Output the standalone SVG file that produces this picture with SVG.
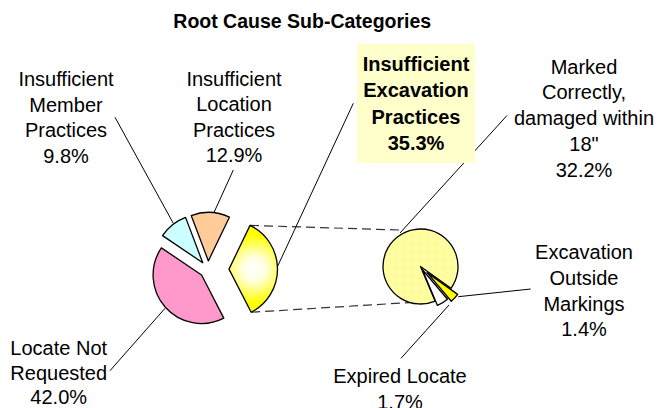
<svg xmlns="http://www.w3.org/2000/svg" width="659" height="408" viewBox="0 0 659 408">
<style>
text{font-family:"Liberation Sans",Arial,sans-serif;fill:#000}
.lbl{font-size:20px;text-anchor:middle}
.bold{font-size:20px;font-weight:bold;text-anchor:middle}
.title{font-size:19.5px;font-weight:bold}
.slice{stroke:#000;stroke-width:1.3;stroke-linejoin:round}
.lead{stroke:#000;stroke-width:1;fill:none}
.dash{stroke:#333;stroke-width:1.2;fill:none;stroke-dasharray:9 5}
</style>
<defs>
<radialGradient id="yg" gradientUnits="userSpaceOnUse" cx="254" cy="269" r="34">
<stop offset="0" stop-color="#FFFFFF"/>
<stop offset="0.35" stop-color="#FFFFE0"/>
<stop offset="1" stop-color="#FFFF00"/>
</radialGradient>
<pattern id="dots" width="2" height="2" patternUnits="userSpaceOnUse">
<rect width="2" height="2" fill="#FFFFD0"/>
<rect width="1" height="1" fill="#FFFF70"/>
<rect x="1" y="1" width="1" height="1" fill="#FFFF70"/>
</pattern>
</defs>
<rect width="659" height="408" fill="#fff"/>
<text class="title" x="173.3" y="28.3">Root Cause Sub-Categories</text>

<g id="connectors">
<line class="dash" x1="250.03" y1="225.4" x2="399" y2="230"/>
<line class="dash" x1="251.17" y1="312.24" x2="435" y2="301"/>
<line class="lead" x1="115" y1="117.3" x2="173.3" y2="223.3"/>
<line class="lead" x1="233.3" y1="170" x2="213.3" y2="214"/>
<line class="lead" x1="353.3" y1="103.3" x2="277.5" y2="266.5"/>
<line class="lead" x1="507" y1="115.5" x2="400" y2="233"/>
<line class="lead" x1="530.7" y1="289" x2="458.3" y2="296.7"/>
<line class="lead" x1="401" y1="358.3" x2="449" y2="305"/>
<line class="lead" x1="110" y1="370.7" x2="165" y2="308.3"/>
</g>

<g id="box-excavation">
<rect x="357" y="44" width="118" height="119" fill="#FFFFCC"/>
<text class="bold" x="416" y="70.5">Insufficient</text>
<text class="bold" x="416" y="97">Excavation</text>
<text class="bold" x="416" y="123.5">Practices</text>
<text class="bold" x="416" y="150">35.3%</text>
</g>

<g id="slice-locate-not-requested">
<path class="slice" fill="#FF99CC" d="M201.6,275 L223.77,318.14 A48.5,48.5 0 0 1 161.39,247.88 Z"/>
</g>
<g id="slice-member">
<path class="slice" fill="#CCFFFF" d="M202.72,262.74 L162.51,235.62 A48.5,48.5 0 0 1 185.58,217.37 Z"/>
</g>
<g id="slice-location">
<path class="slice" fill="#FFCC99" d="M208.37,260.91 L191.23,215.54 A48.5,48.5 0 0 1 229.4,217.21 Z"/>
</g>
<g id="slice-excavation">
<path class="slice" fill="url(#yg)" d="M229,269.1 L250.03,225.4 A48.5,48.5 0 0 1 251.17,312.24 Z"/>
</g>

<g id="slice-marked-correctly">
<path class="slice" fill="url(#dots)" d="M420.5,266.5 L435.09,301.05 A37.5,37.5 0 1 1 451.03,288.28 Z"/>
</g>
<g id="slice-expired-locate">
<path class="slice" fill="#FFFFFF" d="M422.3,269.5 L447.47,299.29 A39,39 0 0 1 437.47,305.43 Z"/>
</g>
<g id="slice-outside-markings">
<path class="slice" fill="#FFFF00" d="M427.1,272.6 L457.63,294.38 A37.5,37.5 0 0 1 451.31,301.24 Z"/>
</g>

<g id="label-member">
<text class="lbl" x="66" y="86">Insufficient</text>
<text class="lbl" x="66" y="111.6">Member</text>
<text class="lbl" x="66" y="137.2">Practices</text>
<text class="lbl" x="66" y="162.8">9.8%</text>
</g>
<g id="label-location">
<text class="lbl" x="234" y="85.5">Insufficient</text>
<text class="lbl" x="234" y="111">Location</text>
<text class="lbl" x="234" y="136.5">Practices</text>
<text class="lbl" x="234" y="162">12.9%</text>
</g>
<g id="label-marked">
<text class="lbl" x="584" y="73.5">Marked</text>
<text class="lbl" x="584" y="99.2">Correctly,</text>
<text class="lbl" x="584" y="125">damaged within</text>
<text class="lbl" x="584" y="150.8">18"</text>
<text class="lbl" x="584" y="176.6">32.2%</text>
</g>
<g id="label-outside">
<text class="lbl" x="584" y="259.3">Excavation</text>
<text class="lbl" x="584" y="284.9">Outside</text>
<text class="lbl" x="584" y="310.5">Markings</text>
<text class="lbl" x="584" y="336.1">1.4%</text>
</g>
<g id="label-locate">
<text class="lbl" x="58.7" y="355">Locate Not</text>
<text class="lbl" x="58.7" y="379.5">Requested</text>
<text class="lbl" x="58.7" y="404">42.0%</text>
</g>
<g id="label-expired">
<text class="lbl" x="400" y="383.3">Expired Locate</text>
<text class="lbl" x="400" y="409">1.7%</text>
</g>
</svg>
